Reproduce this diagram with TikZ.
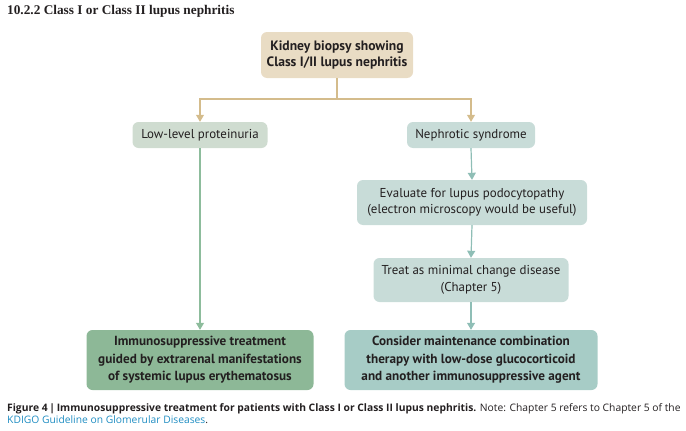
\documentclass[tikz,border=0pt]{standalone}
\usepackage{fontspec}
\setmainfont{Liberation Serif}
\newfontfamily\boxfont{PT Sans}
\newfontfamily\capfont{Open Sans}
\usetikzlibrary{arrows.meta}

\definecolor{inkdark}{HTML}{231F20}
\definecolor{biopsyfill}{HTML}{E9DCC4}
\definecolor{beigeline}{HTML}{D4BC8C}
\definecolor{proteinfill}{HTML}{CFDCD0}
\definecolor{nephfill}{HTML}{C8DCD8}
\definecolor{greenline}{HTML}{8DBC9C}
\definecolor{tealline}{HTML}{8FBEB6}
\definecolor{immunofill}{HTML}{8DB897}
\definecolor{considerfill}{HTML}{A7CCC6}
\definecolor{linkblue}{HTML}{1F8DC2}

\tikzset{
  box/.style={rounded corners=6pt, align=center, inner sep=0pt, text=inkdark,
    font=\boxfont\fontsize{12.9}{16.5}\selectfont},
  boldbox/.style={box, font=\boxfont\bfseries\fontsize{13.2}{17.5}\selectfont},
  beigearrow/.style={beigeline, line width=1.2pt, -{Triangle[width=8pt,length=7pt]}},
  greenarrow/.style={greenline, line width=1.2pt, -{Triangle[width=8pt,length=7pt]}},
  tealarrow/.style={tealline, line width=1.2pt, -{Triangle[width=8pt,length=7pt]}}
}

\begin{document}
\begin{tikzpicture}[x=1pt, y=-1pt]
    \useasboundingbox (0,0) rectangle (686,431);

    % Section heading
    \node[anchor=base west, inner sep=0pt, text=inkdark, font=\bfseries\fontsize{13.3}{14}\selectfont]
        (heading) at (7,15) {10.2.2 Class I or Class II lupus nephritis};

    % Boxes
    \node[boldbox, fill=biopsyfill, minimum width=152pt, minimum height=46pt, font=\boxfont\bfseries\fontsize{13.6}{16}\selectfont]
        (biopsy) at (337,55) {Kidney biopsy showing\\Class I/II lupus nephritis};
    \node[box, fill=proteinfill, minimum width=135pt, minimum height=26pt]
        (lowprot) at (200,135) {Low-level proteinuria};
    \node[box, fill=nephfill, minimum width=128pt, minimum height=26pt]
        (nephrotic) at (471,135) {Nephrotic syndrome};
    \node[box, fill=nephfill, minimum width=230pt, minimum height=45pt]
        (evaluate) at (472,202.5) {Evaluate for lupus podocytopathy\\(electron microscopy would be useful)};
    \node[box, fill=nephfill, minimum width=195pt, minimum height=44pt]
        (treat) at (471,280) {Treat as minimal change disease\\(Chapter 5)};
    \node[boldbox, fill=immunofill, minimum width=227pt, minimum height=60pt]
        (immuno) at (200,360) {Immunosuppressive treatment\\guided by extrarenal manifestations\\of systemic lupus erythematosus};
    \node[boldbox, fill=considerfill, minimum width=253pt, minimum height=60pt]
        (consider) at (471,360) {Consider maintenance combination\\therapy with low-dose glucocorticoid\\and another immunosuppressive agent};

    % Connectors
    \coordinate (split) at (337,99);
    \draw[beigeline, line width=1.2pt] (biopsy.south) -- (split);
    \draw[beigearrow] (split) -| (lowprot.north);
    \draw[beigearrow] (split) -| (nephrotic.north);
    \draw[greenarrow] (lowprot.south) -- (immuno.north);
    \draw[tealarrow] (nephrotic.south) -- (evaluate.north);
    \draw[tealarrow] (evaluate.south) -- (treat.north);
    \draw[tealarrow] (treat.south) -- (consider.north);

    % Caption
    \node[anchor=base west, inner sep=0pt, text=inkdark, font=\capfont\fontsize{10.3}{12}\selectfont]
        (caption) at (7,411) {\textbf{Figure 4\,|\,Immunosuppressive treatment for patients with Class I or Class II lupus nephritis.} Note: Chapter 5 refers to Chapter 5 of the};
    \node[anchor=base west, inner sep=0pt, text=inkdark, font=\capfont\fontsize{10.3}{12}\selectfont]
        (source) at (7,423) {\textcolor{linkblue}{KDIGO Guideline on Glomerular Diseases}.};
\end{tikzpicture}
\end{document}
